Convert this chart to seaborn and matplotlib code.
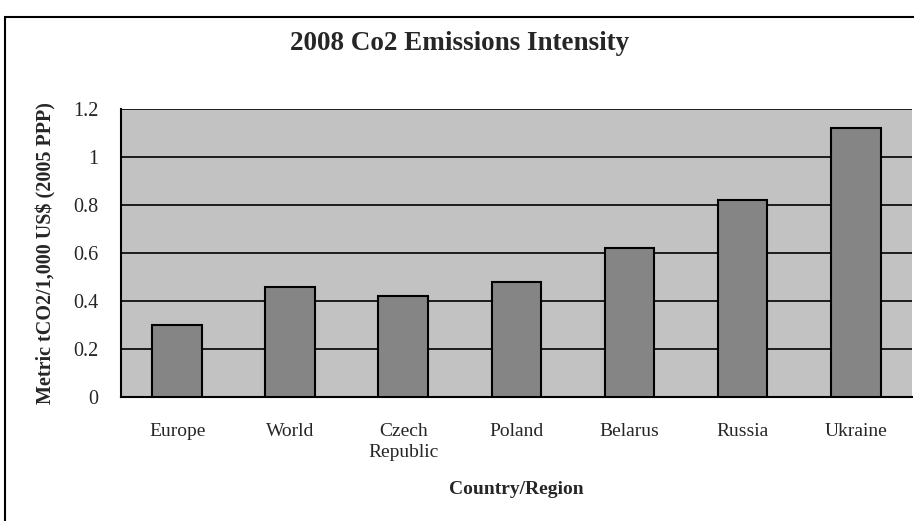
import numpy as np
import pandas as pd
import matplotlib; matplotlib.use("Agg")
import matplotlib.pyplot as plt
import seaborn as sns
from matplotlib.patches import Rectangle

# data
regions = ["Europe", "World", "Czech\nRepublic", "Poland", "Belarus", "Russia", "Ukraine"]
intensity = [0.30, 0.46, 0.42, 0.48, 0.62, 0.82, 1.12]
y_ticks = [0, 0.2, 0.4, 0.6, 0.8, 1.0, 1.2]
y_tick_labels = ["0", "0.2", "0.4", "0.6", "0.8", "1", "1.2"]

PLOT_BG = "#c2c2c2"
BAR_COL = "#858585"

sns.set_style("white")
plt.rcParams["font.family"] = ["Liberation Serif", "DejaVu Serif"]

df = pd.DataFrame({"region": regions, "value": intensity})

fig = plt.figure(figsize=(9.14, 5.21), dpi=100)
ax = fig.add_axes([0.132, 0.238, 0.866, 0.553])

# outer chart frame (runs off right/bottom edge like the scan)
fig.patches.append(Rectangle((5 / 914, -0.05), 1.0, 1 - 17 / 521 + 0.05,
                             transform=fig.transFigure, fill=False,
                             edgecolor="black", lw=1.5))

ax.set_facecolor(PLOT_BG)
sns.barplot(data=df, x="region", y="value", color=BAR_COL, width=0.44,
            edgecolor="black", linewidth=1.5, saturation=1, ax=ax, zorder=3)

ax.set_ylim(0, 1.2)
ax.set_xlim(-0.5, 6.5)
ax.set_yticks(y_ticks)
ax.set_yticklabels(y_tick_labels, fontsize=14.5)
ax.set_xticks(np.arange(-0.5, 7, 1.0), minor=False)
ax.set_xticklabels([])
ax.set_xticks(range(len(regions)), minor=True)
ax.set_xticklabels(regions, minor=True, fontsize=14, linespacing=1.3)
ax.tick_params(axis="x", which="minor", length=0, pad=19)
ax.tick_params(axis="x", which="major", direction="out", length=6, width=1.2, color="black")
ax.tick_params(axis="y", direction="out", length=7, width=1.2, color="black", pad=9)
ax.yaxis.grid(True, color="black", lw=1.2, zorder=1)
ax.set_axisbelow(True)

for side in ["top", "right"]:
    ax.spines[side].set_visible(False)
for side in ["left", "bottom"]:
    ax.spines[side].set_color("black")
    ax.spines[side].set_linewidth(1.5)

ax.set_xlabel("Country/Region", fontsize=14, fontweight="bold", labelpad=14)
ax.set_ylabel("Metric tCO2/1,000 US$ (2005 PPP)", fontsize=14.5, fontweight="bold", labelpad=12)
fig.text(0.503, 1 - 43 / 521, "2008 Co2 Emissions Intensity", ha="center", va="center",
         fontsize=19.5, fontweight="bold")

fig.savefig("out.png", dpi=100)
